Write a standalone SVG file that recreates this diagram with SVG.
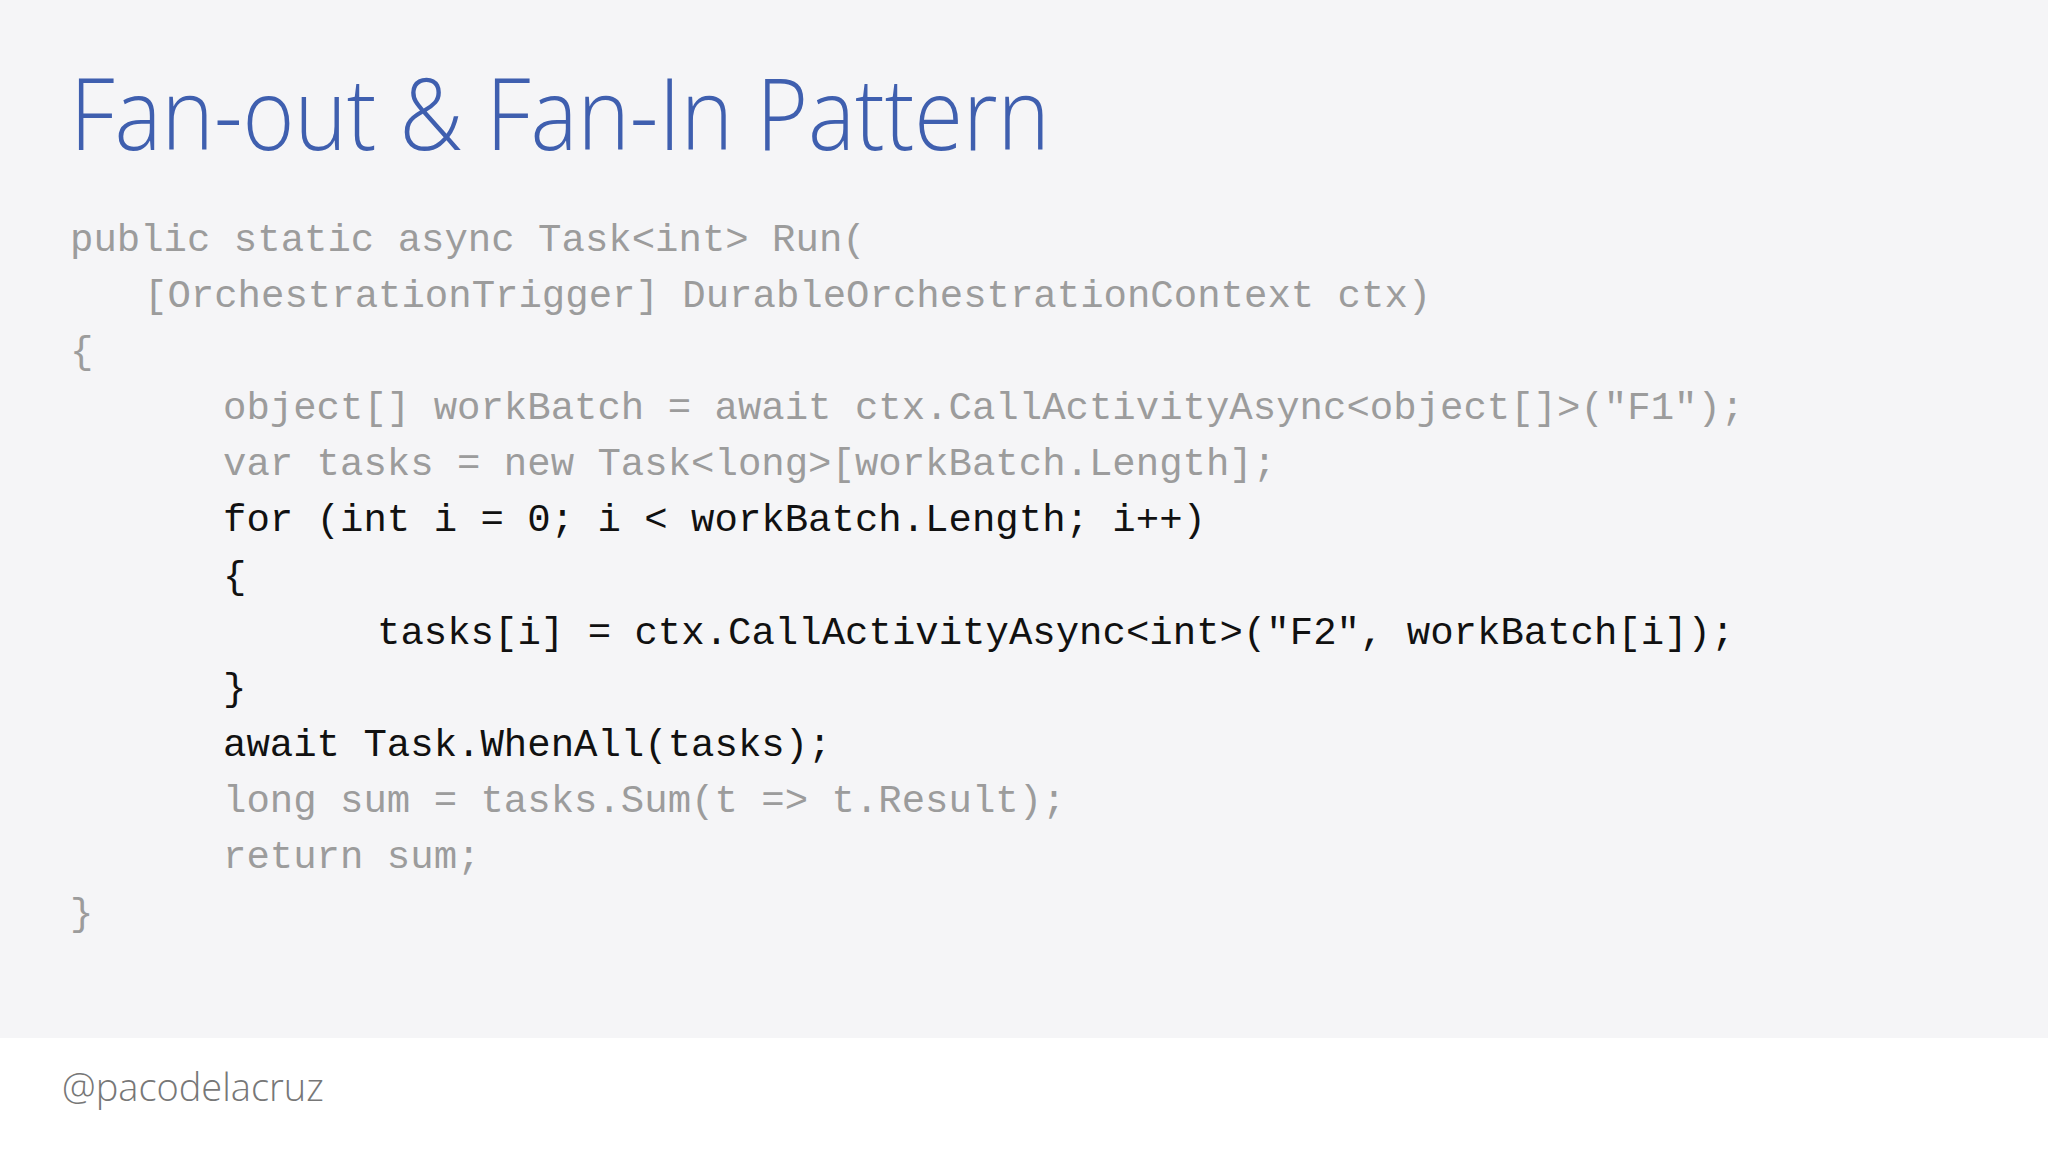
<svg xmlns="http://www.w3.org/2000/svg" width="2048" height="1152" viewBox="0 0 2048 1152">
<style>
.c{font-family:"Liberation Mono","DejaVu Sans Mono",monospace;font-size:39px;white-space:pre}
.g{fill:#9c9c9c}.k{fill:#111}
</style>
<rect width="2048" height="1038" fill="#f5f5f7"/>
<rect y="1038" width="2048" height="114" fill="#ffffff"/>
<g id="title"><text x="70" y="150" font-family="Open Sans,Noto Sans,sans-serif" font-weight="300" font-size="100" fill="#3f5faf" textLength="980" lengthAdjust="spacingAndGlyphs">Fan-out &amp; Fan-In Pattern</text></g>
<g id="code">
<text class="c g" x="70" y="251">public static async Task&lt;int&gt; Run(</text>
<text class="c g" x="144" y="307">[OrchestrationTrigger] DurableOrchestrationContext ctx)</text>
<text class="c g" x="70" y="363">{</text>
<text class="c g" x="223" y="419">object[] workBatch = await ctx.CallActivityAsync&lt;object[]&gt;("F1");</text>
<text class="c g" x="223" y="475">var tasks = new Task&lt;long&gt;[workBatch.Length];</text>
<text class="c k" x="223" y="531">for (int i = 0; i &lt; workBatch.Length; i++)</text>
<text class="c k" x="223" y="588">{</text>
<text class="c k" x="377" y="644">tasks[i] = ctx.CallActivityAsync&lt;int&gt;("F2", workBatch[i]);</text>
<text class="c k" x="223" y="700">}</text>
<text class="c k" x="223" y="756">await Task.WhenAll(tasks);</text>
<text class="c g" x="223" y="812">long sum = tasks.Sum(t =&gt; t.Result);</text>
<text class="c g" x="223" y="868">return sum;</text>
<text class="c g" x="70" y="925">}</text>
</g>
<g id="footer"><text x="62" y="1101" font-family="Open Sans,Noto Sans,sans-serif" font-weight="300" font-size="38" fill="#777">@pacodelacruz</text></g>
</svg>
